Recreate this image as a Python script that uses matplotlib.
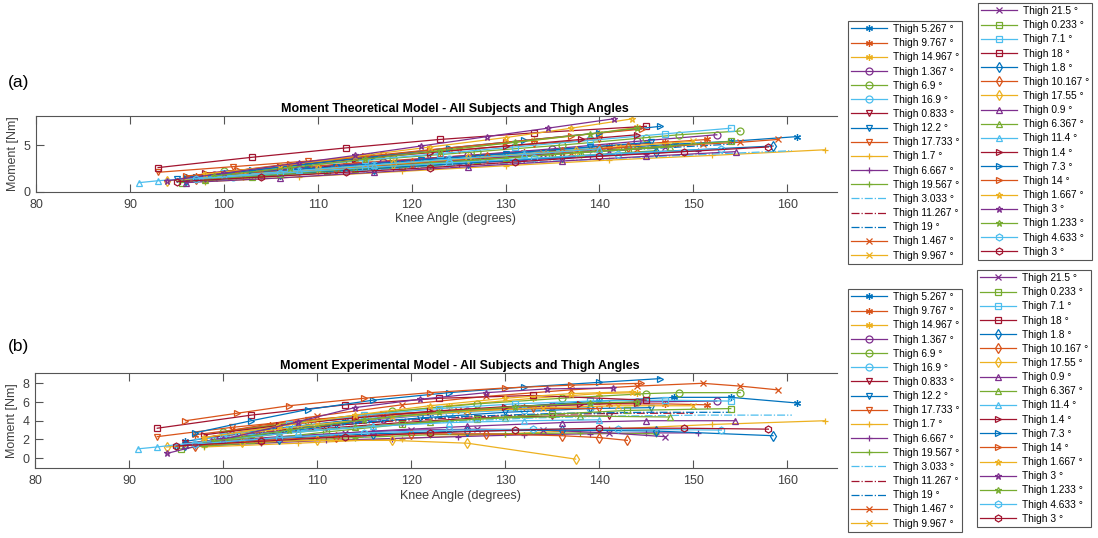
import numpy as np
import matplotlib
matplotlib.use('Agg')
import matplotlib.pyplot as plt

plt.rcParams['font.family'] = ['Liberation Sans', 'DejaVu Sans']

# thigh angle of each trial (legend order)
thigh = ['5.267', '9.767', '14.967', '1.367', '6.9', '16.9', '0.833', '12.2', '17.733',
         '1.7', '6.667', '19.567', '3.033', '11.267', '19', '1.467', '9.967',
         '21.5', '0.233', '7.1', '18', '1.8', '10.167', '17.55', '0.9', '6.367',
         '11.4', '1.4', '7.3', '14', '1.667', '3', '1.233', '4.633', '3']

# knee angle samples per trial (degrees)
knee = [
    [96, 104, 113, 122, 131, 140, 148, 154, 161],
    [97, 105, 114, 123, 132, 141, 147, 151.5],
    [98, 106, 115, 124, 133, 140, 144],
    [99, 108, 117, 126, 135, 144, 152.5],
    [100, 109, 118, 127, 136, 145, 148.5, 155],
    [101, 108, 116, 124, 132, 139],
    [96, 103, 111, 119, 127, 135, 141],
    [95, 103, 112, 121, 130, 139, 145.5],
    [93, 101, 109, 117, 125, 133, 140],
    [98, 108, 119, 130, 141, 152, 164],
    [97, 104, 111, 118, 125, 132, 139, 145, 150.5],
    [98, 106, 114, 122, 130, 138, 146],
    [97, 106, 115, 124, 133, 142, 151, 160.5],
    [99, 108, 117, 126, 135, 144, 150],
    [100, 109, 118, 127, 136, 145, 154],
    [101, 110, 119, 128, 137, 144, 151, 155, 159],
    [102, 110, 118, 126, 134, 142, 150],
    [99, 106, 113, 120, 127, 134, 141, 147],
    [95.5, 103, 111, 119, 127, 135, 143, 154],
    [100, 107, 115, 123, 131, 139, 147, 154],
    [93, 103, 113, 123, 133, 145],
    [96, 106, 116, 126, 136, 146, 158.5],
    [97, 104, 112, 120, 128, 136, 140, 143],
    [94, 102, 110, 118, 126, 137.5],
    [96, 106, 116, 126, 136, 145, 154.5],
    [98, 106, 114, 122, 130, 138, 147.5],
    [91, 93, 100, 108, 116, 124, 132, 140],
    [98, 106, 114, 122, 130, 138, 144],
    [97, 103, 109, 116, 124, 132, 140, 146.5],
    [96, 101.5, 107, 115, 122, 130, 137, 144.5],
    [98, 106, 114, 122, 130, 137, 143.5],
    [94, 100, 108, 114, 121, 128, 134.5, 141.5],
    [99, 107, 115, 123, 131, 139, 144],
    [97, 106, 115, 124, 133, 142, 153],
    [95, 104, 113, 122, 131, 140, 149, 158],
]

# theoretical model moment (Nm)
moment_theo = [
    [1.6, 2.3, 2.9, 3.5, 4.1, 4.6, 5.1, 5.4, 5.9],
    [1.7, 2.4, 3.1, 3.7, 4.3, 4.9, 5.3, 5.6],
    [1.9, 2.8, 3.7, 4.6, 5.5, 6.3, 6.9],
    [1.8, 2.5, 3.2, 3.9, 4.6, 5.4, 6.1],
    [2.2, 2.9, 3.6, 4.3, 5.0, 5.8, 6.1, 6.5],
    [1.6, 2.2, 2.9, 3.5, 4.1, 4.7],
    [1.3, 1.8, 2.4, 3.0, 3.6, 4.2, 4.7],
    [1.4, 2.0, 2.7, 3.4, 4.1, 4.8, 5.3],
    [2.1, 2.7, 3.3, 3.9, 4.5, 5.1, 5.6],
    [1.1, 1.6, 2.2, 2.8, 3.4, 3.9, 4.5],
    [1.4, 1.8, 2.2, 2.6, 3.0, 3.4, 3.8, 4.1, 4.4],
    [1.2, 1.7, 2.3, 2.8, 3.4, 3.9, 4.4],
    [1.5, 1.9, 2.3, 2.8, 3.2, 3.6, 4.0, 4.4],
    [1.7, 2.3, 2.9, 3.5, 4.1, 4.7, 5.1],
    [1.9, 2.5, 3.0, 3.6, 4.1, 4.6, 5.1],
    [1.9, 2.4, 3.0, 3.6, 4.2, 4.6, 5.1, 5.3, 5.6],
    [1.8, 2.4, 3.0, 3.6, 4.2, 4.8, 5.4],
    [1.5, 2.0, 2.5, 3.0, 3.5, 4.0, 4.4, 4.8],
    [1.0, 1.6, 2.2, 2.8, 3.4, 4.0, 4.6, 5.4],
    [2.0, 2.7, 3.4, 4.1, 4.8, 5.5, 6.2, 6.8],
    [2.6, 3.7, 4.7, 5.6, 6.3, 7.0],
    [1.3, 1.9, 2.5, 3.1, 3.7, 4.3, 4.9],
    [1.4, 1.9, 2.5, 3.1, 3.7, 4.3, 4.6, 4.8],
    [1.2, 1.8, 2.4, 3.0, 3.6, 4.4],
    [1.0, 1.5, 2.1, 2.7, 3.3, 3.8, 4.3],
    [1.3, 1.9, 2.5, 3.1, 3.6, 4.2, 4.8],
    [1.0, 1.2, 1.7, 2.3, 2.9, 3.5, 4.0, 4.6],
    [2.0, 2.7, 3.5, 4.2, 4.9, 5.6, 6.1],
    [1.6, 2.3, 3.0, 3.8, 4.7, 5.5, 6.3, 7.0],
    [1.7, 2.3, 3.0, 3.8, 4.5, 5.3, 6.0, 6.7],
    [1.9, 2.8, 3.8, 4.8, 5.8, 6.8, 7.8],
    [1.2, 2.0, 3.1, 3.9, 4.9, 5.9, 6.8, 7.8],
    [1.7, 2.6, 3.5, 4.4, 5.3, 6.2, 6.8],
    [1.4, 2.0, 2.6, 3.1, 3.6, 4.1, 4.6],
    [1.1, 1.6, 2.1, 2.6, 3.2, 3.8, 4.3, 4.8],
]

# experimental model moment (Nm)
moment_exp = [
    [1.8, 3.0, 4.0, 4.8, 5.5, 6.1, 6.5, 6.5, 5.9],
    [2.5, 3.5, 4.3, 5.0, 5.5, 5.8, 5.8, 5.7],
    [2.2, 3.5, 4.6, 5.6, 6.4, 6.9, 7.0],
    [2.0, 3.2, 4.2, 5.0, 5.6, 6.0, 6.1],
    [2.8, 4.0, 5.0, 5.8, 6.4, 6.9, 7.0, 7.0],
    [2.5, 3.4, 4.2, 4.8, 5.2, 5.4],
    [1.6, 2.4, 3.2, 3.8, 4.3, 4.5, 4.5],
    [1.2, 2.4, 3.5, 4.3, 4.9, 5.3, 5.4],
    [2.3, 3.3, 4.1, 4.7, 5.1, 5.3, 5.3],
    [1.2, 1.6, 2.1, 2.6, 3.1, 3.6, 4.0],
    [1.3, 1.6, 1.9, 2.1, 2.3, 2.5, 2.6, 2.7, 2.7],
    [1.3, 1.8, 2.2, 2.5, 2.6, 2.7, 2.6],
    [2.0, 2.8, 3.4, 3.9, 4.3, 4.5, 4.6, 4.6],
    [2.3, 3.2, 3.9, 4.4, 4.7, 4.8, 4.8],
    [2.6, 3.4, 4.1, 4.5, 4.8, 4.9, 4.9],
    [3.0, 4.5, 5.7, 6.6, 7.3, 7.7, 8.0, 7.7, 7.3],
    [2.6, 3.6, 4.4, 5.0, 5.4, 5.6, 5.6],
    [1.8, 2.3, 2.7, 3.0, 3.1, 3.0, 2.7, 2.3],
    [1.0, 1.9, 2.8, 3.6, 4.2, 4.7, 5.1, 5.3],
    [2.4, 3.6, 4.6, 5.3, 5.8, 6.1, 6.2, 6.1],
    [3.2, 4.6, 5.7, 6.4, 6.7, 6.2],
    [1.4, 2.1, 2.6, 2.9, 3.0, 2.9, 2.4],
    [1.3, 1.9, 2.3, 2.6, 2.6, 2.4, 2.2, 1.9],
    [1.2, 1.7, 1.9, 1.9, 1.6, -0.1],
    [1.4, 2.2, 2.9, 3.4, 3.8, 4.0, 4.0],
    [1.6, 2.6, 3.3, 3.9, 4.3, 4.5, 4.4],
    [1.0, 1.2, 2.0, 2.8, 3.4, 3.8, 4.0, 4.1],
    [2.5, 3.5, 4.3, 5.0, 5.5, 5.8, 5.9],
    [2.7, 4.0, 5.2, 6.2, 7.0, 7.6, 8.1, 8.5],
    [4.0, 4.8, 5.6, 6.4, 7.0, 7.5, 7.8, 8.0],
    [2.2, 3.4, 4.6, 5.6, 6.4, 6.9, 7.1],
    [0.5, 2.0, 3.9, 5.4, 6.3, 7.0, 7.4, 7.5],
    [1.8, 3.0, 4.1, 4.9, 5.5, 5.9, 6.0],
    [1.5, 2.2, 2.7, 3.0, 3.1, 3.1, 3.0],
    [1.3, 1.8, 2.3, 2.7, 3.0, 3.2, 3.2, 3.1],
]

# matlab default colour order and marker cycle (each marker used 3 times)
colors = ['#0072BD', '#D95319', '#EDB120', '#7E2F8E', '#77AC30', '#4DBEEE', '#A2142F']
markers = [(6, 2, 0), 'o', 'v', '+', None, 'x', 's', 'd', '^', '>', '*', 'h']

W, H = 1098, 538
fig = plt.figure(figsize=(W / 100, H / 100), dpi=100)


def draw_panel(rect, moments, title, ylim, yticks, leg_left, leg_right, xc, label_top):
    ax = fig.add_axes(rect)
    handles = []
    for i in range(len(thigh)):
        mk = markers[i // 3]
        ls = '-.' if mk is None else '-'
        h, = ax.plot(knee[i], moments[i], linestyle=ls, marker=mk, color=colors[i % 7],
                     lw=0.9, ms=5, mfc='none', mew=0.9, label='Thigh ' + thigh[i] + ' \u00b0')
        handles.append(h)
    ax.set_xlim(80, 165.3)
    ax.set_ylim(*ylim)
    ax.set_xticks([80, 90, 100, 110, 120, 130, 140, 150, 160])
    ax.set_yticks(yticks)
    ax.tick_params(direction='in', length=6, width=0.8, top=True, labelsize=9,
                   colors='#555555', labelcolor='#404040')
    ax.tick_params(axis='x', pad=5)
    ax.tick_params(axis='y', pad=4)
    ax.spines['right'].set_visible(False)
    for s in ['top', 'bottom', 'left']:
        ax.spines[s].set_color('#555555')
    ax.set_xlabel('Knee Angle (degrees)', fontsize=9, color='#404040')
    ax.xaxis.set_label_coords(xc, 1 - label_top / H, transform=fig.transFigure)
    ax.set_ylabel('Moment [Nm]', fontsize=9, color='#404040', labelpad=3)
    ax.set_title(title, fontsize=9, fontweight='bold', pad=3, x=(xc * W - rect[0] * W) / (rect[2] * W))

    for (x0, y0, hs) in [(leg_left[0], leg_left[1], handles[:17]),
                         (leg_right[0], leg_right[1], handles[17:])]:
        leg = fig.legend(handles=hs, loc='upper left', bbox_to_anchor=(x0 / W, 1 - y0 / H),
                         borderaxespad=0, fontsize=7.3, labelspacing=0.41, handlelength=3.5,
                         handletextpad=0.6, borderpad=0.3, fancybox=False, framealpha=1,
                         edgecolor='#555555')
        leg.get_frame().set_linewidth(0.8)
    return ax


draw_panel([36 / W, 1 - 192 / H, 801 / W, 76 / H],
           moment_theo, 'Moment Theoretical Model - All Subjects and Thigh Angles',
           (0, 8.1), [0, 5], (848, 21), (978, 3), 455 / W, 213)
draw_panel([35 / W, 1 - 468 / H, 802 / W, 95 / H],
           moment_exp, 'Moment Experimental Model - All Subjects and Thigh Angles',
           (-1.05, 9.1), [0, 2, 4, 6, 8], (848, 289), (977, 270), 460 / W, 490)

fig.text(8 / W, 1 - 83 / H, '(a)', fontsize=12.5, va='center')
fig.text(8 / W, 1 - 347 / H, '(b)', fontsize=12.5, va='center')

plt.savefig('out.png', dpi=100)
